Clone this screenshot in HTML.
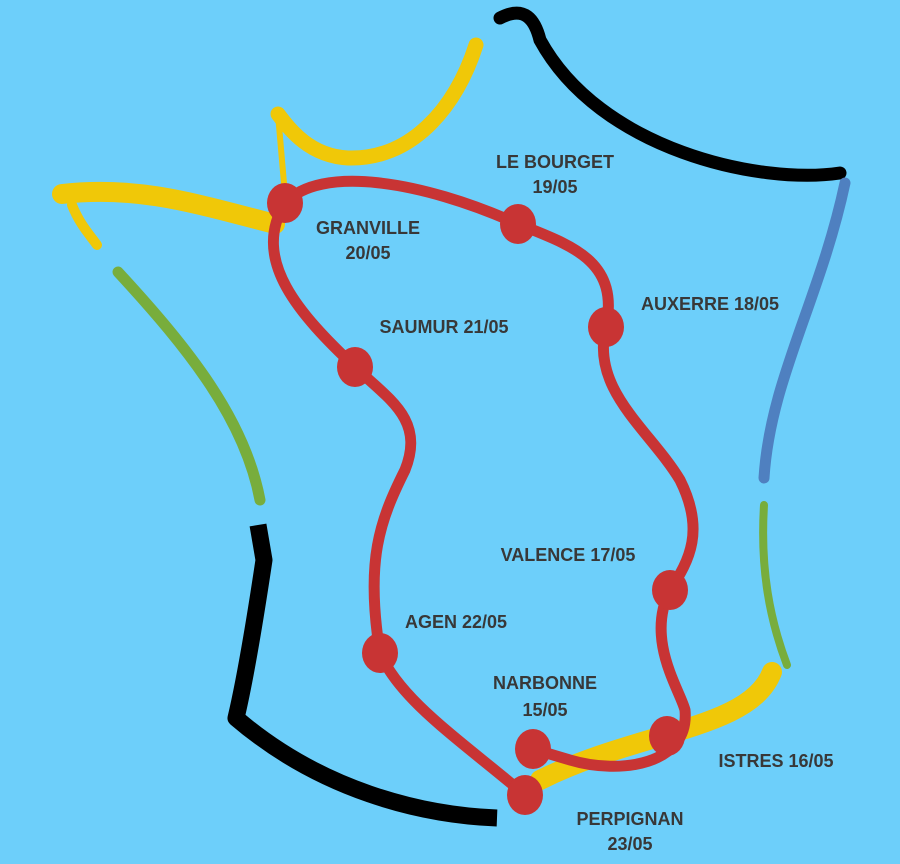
<!DOCTYPE html>
<html><head><style>
html,body{margin:0;padding:0;width:900px;height:864px;overflow:hidden;background:#6dcffa;}
text{font-family:"Liberation Sans",sans-serif;font-weight:bold;font-size:18px;fill:#383838;text-anchor:middle;}
</style></head><body>
<svg width="900" height="864" viewBox="0 0 900 864" xmlns="http://www.w3.org/2000/svg">
<rect width="900" height="864" fill="#6dcffa"/>
<g fill="none" stroke-linecap="round">
<path d="M476,45 C455,110 410,160 348,158 C310,156 290,130 278,114" stroke="#f0c808" stroke-width="15"/>
<path d="M278,114 L285,195" stroke="#f0c808" stroke-width="6"/>
<path d="M62,194 C140,185 200,205 275,224" stroke="#f0c808" stroke-width="20"/>
<path d="M72,205 C80,225 90,235 97,245" stroke="#f0c808" stroke-width="10"/>
<path d="M118,272 C190,350 245,420 260,500" stroke="#78ad3c" stroke-width="11"/>
<path d="M258,525 L264,560 C255,620 245,680 236,718 C320,790 420,815 497,818" stroke="#000" stroke-width="17" stroke-linecap="butt" stroke-linejoin="round"/>
<path d="M500,18 C525,5 535,20 540,40 C600,150 760,185 840,173" stroke="#000" stroke-width="13"/>
<path d="M845,183 C820,300 770,380 764,478" stroke="#4f80c0" stroke-width="11"/>
<path d="M764,505 C760,570 770,620 787,665" stroke="#78ad3c" stroke-width="8"/>
<path d="M772,672 C750,730 640,730 540,780" stroke="#f0c808" stroke-width="20"/>
<path d="M525,795 C460,740 400,700 380,653 C365,560 380,520 405,470 C425,420 390,400 355,367 C300,315 250,260 285,203 C320,165 420,180 518,224 C570,245 620,260 606,327 C590,390 650,430 680,480 C705,530 690,560 670,590 C645,640 680,690 685,710 C690,765 620,775 570,760 L533,749" stroke="#c83434" stroke-width="11" stroke-linejoin="round"/>
</g>
<g fill="#c83434">
<ellipse cx="285" cy="203" rx="18" ry="20"/>
<ellipse cx="518" cy="224" rx="18" ry="20"/>
<ellipse cx="606" cy="327" rx="18" ry="20"/>
<ellipse cx="355" cy="367" rx="18" ry="20"/>
<ellipse cx="380" cy="653" rx="18" ry="20"/>
<ellipse cx="670" cy="590" rx="18" ry="20"/>
<ellipse cx="667" cy="736" rx="18" ry="20"/>
<ellipse cx="533" cy="749" rx="18" ry="20"/>
<ellipse cx="525" cy="795" rx="18" ry="20"/>
</g>
<text x="555" y="168">LE BOURGET</text>
<text x="555" y="193">19/05</text>
<text x="368" y="234">GRANVILLE</text>
<text x="368" y="259">20/05</text>
<text x="710" y="310">AUXERRE 18/05</text>
<text x="444" y="333">SAUMUR 21/05</text>
<text x="568" y="561">VALENCE 17/05</text>
<text x="456" y="628">AGEN 22/05</text>
<text x="545" y="689">NARBONNE</text>
<text x="545" y="716">15/05</text>
<text x="776" y="767">ISTRES 16/05</text>
<text x="630" y="825">PERPIGNAN</text>
<text x="630" y="850">23/05</text>
</svg>
</body></html>
